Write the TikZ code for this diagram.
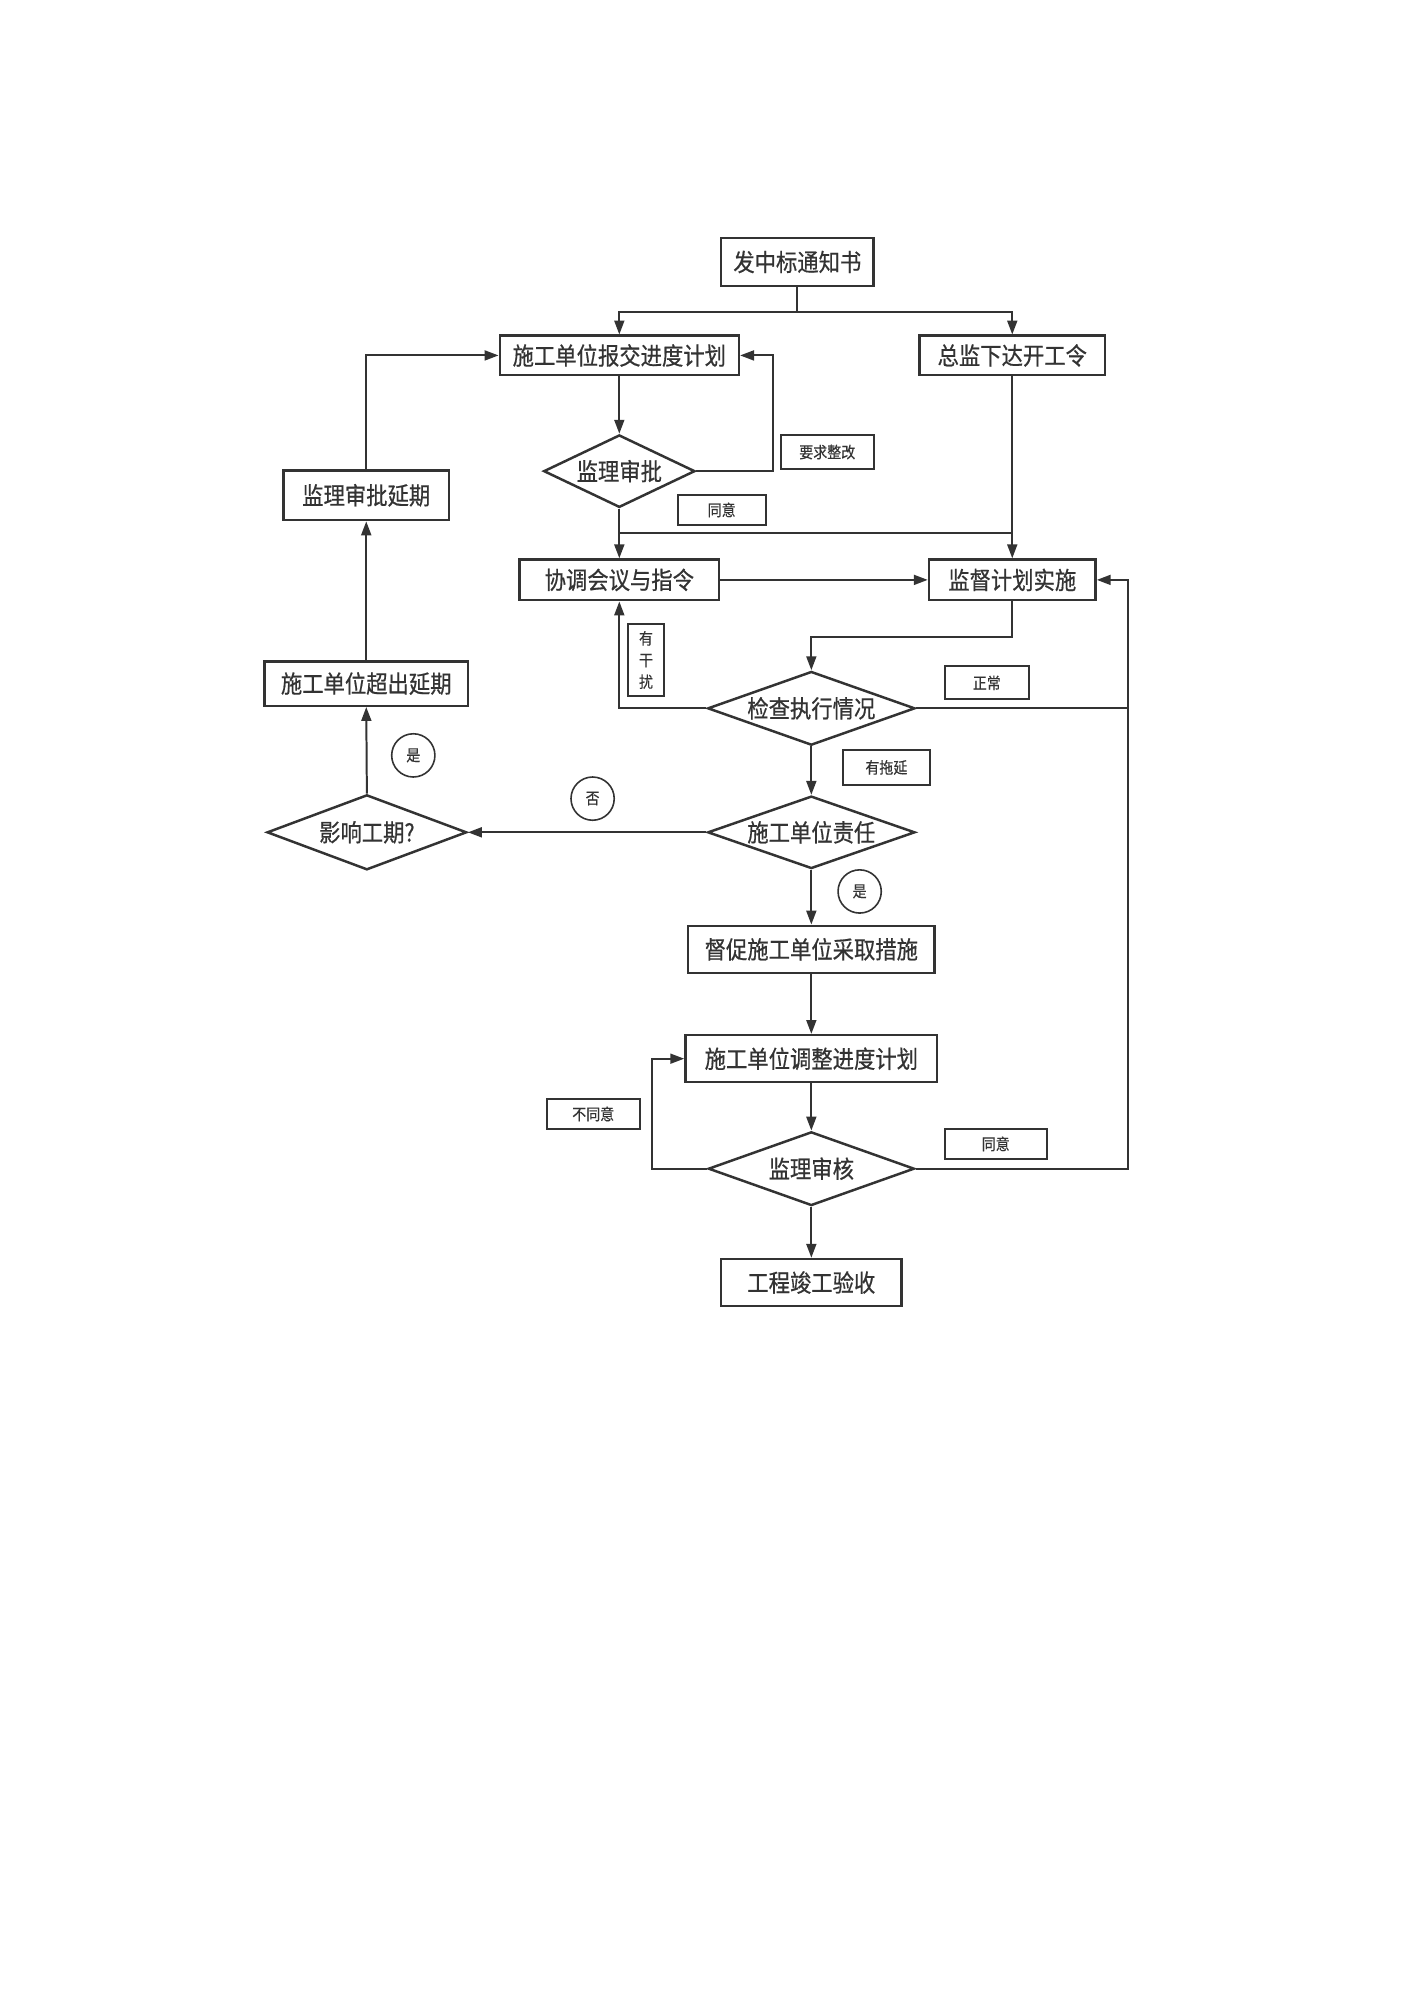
\documentclass[tikz,border=0pt]{standalone}
\usepackage{fontspec}
\newfontfamily\cjk[FakeStretch=0.88,FakeBold=0.6]{Noto Sans CJK SC}
\newfontfamily\cjksmall[FakeStretch=0.88,FakeBold=0.3]{Noto Sans CJK SC}
\usetikzlibrary{shapes.geometric,arrows.meta}
\definecolor{ink}{HTML}{333333}
\newcommand\mainf{\cjk\fontsize{12.2pt}{14pt}\selectfont}
\newcommand\smallf{\cjksmall\fontsize{8pt}{10.9pt}\selectfont}
\begin{document}
\begin{tikzpicture}[x=0.64pt,y=-0.64pt,
  sz/.style 2 args={minimum width=#1*0.64pt, minimum height=#2*0.64pt},
  box/.style={draw=ink, line width=1.25pt, fill=white, inner sep=0pt, font=\mainf, text=ink},
  dia/.style={diamond, aspect=2.8, draw=ink, line width=1.25pt, fill=white, inner sep=0pt, font=\mainf, text=ink},
  lab/.style={draw=ink, line width=1pt, fill=white, inner sep=0pt, font=\smallf, text=ink},
  circ/.style={circle, draw=ink, line width=0.8pt, minimum size=34*0.64pt, inner sep=0pt, font=\smallf, text=ink},
  arr/.style={-{Triangle[length=7pt,width=5pt]}, line width=1pt, draw=ink},
  ln/.style={line width=1pt, draw=ink}]
\useasboundingbox (0,0) rectangle (1108,1568);

% main nodes
\node[box, sz={120}{38}] (top) at (627,206) {发中标通知书};
\node[box, sz={188}{31}] (plan) at (487,279.5) {施工单位报交进度计划};
\node[box, sz={146}{31}] (order) at (796,279.5) {总监下达开工令};
\node[dia, sz={119}{57}] (rev) at (487,370.5) {监理审批};
\node[box, sz={130}{39}] (ext) at (288,389.5) {监理审批延期};
\node[box, sz={157}{32}] (coord) at (487,456) {协调会议与指令};
\node[box, sz={131}{32}] (sup) at (796,456) {监督计划实施};
\node[dia, sz={163}{58}] (chk) at (638,557) {检查执行情况};
\node[box, sz={160}{35}] (over) at (288,537.5) {施工单位超出延期};
\node[dia, sz={163}{57}] (resp) at (638,654.5) {施工单位责任};
\node[dia, sz={157}{59}] (aff) at (288.5,654.5) {影响工期?};
\node[box, sz={194}{37}] (urge) at (638,746.5) {督促施工单位采取措施};
\node[box, sz={198}{37}] (adj) at (638,832.5) {施工单位调整进度计划};
\node[dia, sz={162}{58}] (audit) at (638,919) {监理审核};
\node[box, sz={142}{37}] (done) at (638,1008.5) {工程竣工验收};

% labels
\node[lab, sz={73}{27}] (l1) at (650.5,355.5) {要求整改};
\node[lab, sz={69}{24}] (l2) at (567.5,401) {同意};
\node[lab, sz={28}{56}, align=center] (l3) at (508,519) {有\\干\\扰};
\node[lab, sz={66}{26}] (l4) at (776,537) {正常};
\node[lab, sz={68}{27}] (l5) at (697,603.5) {有拖延};
\node[lab, sz={73}{24}] (l6) at (466.5,876) {不同意};
\node[lab, sz={80}{23}] (l7) at (783,899.5) {同意};
\node[circ] (c1) at (325,594) {是};
\node[circ] (c2) at (466,628) {否};
\node[circ] (c3) at (676,701) {是};

% connectors
\coordinate (sp) at (627,245);
\draw[ln] (top.south) -- (sp);
\draw[arr] (sp) -| (plan.north);
\draw[arr] (sp) -| (order.north);
\draw[arr] (plan.south) -- (rev.north);
\draw[arr] (rev.east) -- ++(60,0) |- (plan.east);
\draw[arr] (rev.south) -- (coord.north);
\coordinate (j1) at (487,419);
\draw[ln] (j1) -- (j1 -| order.south);
\draw[arr] (order.south) -- (sup.north);
\draw[arr] (ext.north) |- (plan.west);
\draw[arr] (coord.east) -- (sup.west);
\draw[arr] (sup.south) -- ++(0,28) -| (chk.north);
\draw[arr] (chk.west) -| (coord.south);
\coordinate (rx) at (887,557);
\draw[arr] (chk.east) -- (rx) |- (sup.east);
\draw[arr] (chk.south) -- (resp.north);
\draw[arr] (resp.west) -- (aff.east);
\draw[arr] (aff.north) -- (over.south);
\draw[arr] (over.north) -- (ext.south);
\draw[arr] (resp.south) -- (urge.north);
\draw[arr] (urge.south) -- (adj.north);
\draw[arr] (adj.south) -- (audit.north);
\draw[arr] (audit.west) -- ++(-43,0) |- (adj.west);
\draw[ln] (audit.east) -| (rx);
\draw[arr] (audit.south) -- (done.north);
\end{tikzpicture}
\end{document}
